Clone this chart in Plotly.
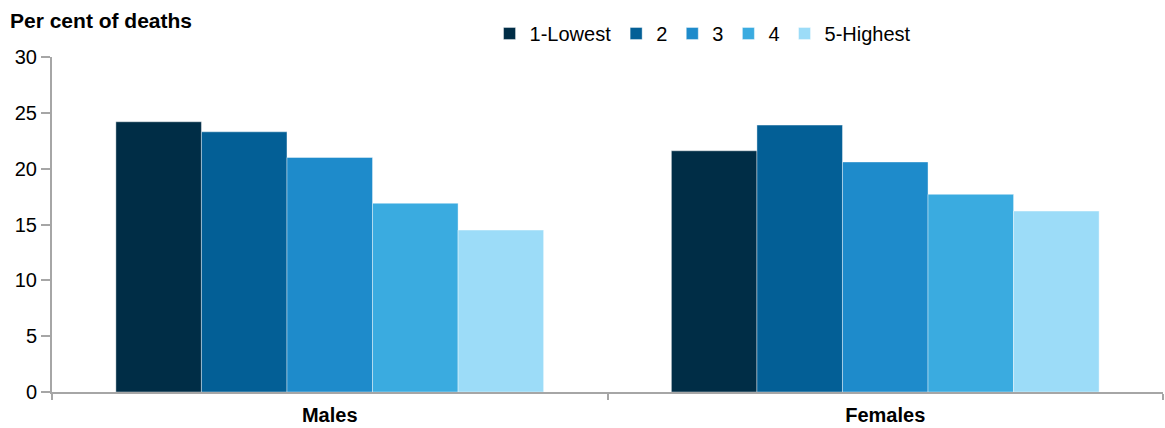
import plotly.graph_objects as go

categories = ["Males", "Females"]
series_names = ["1-Lowest", "2", "3", "4", "5-Highest"]
values = {
    "1-Lowest": [24.2, 21.6],
    "2": [23.3, 23.9],
    "3": [21.0, 20.6],
    "4": [16.9, 17.7],
    "5-Highest": [14.5, 16.2],
}
colors = ["#002D46", "#035F96", "#1E8BCB", "#3AABE0", "#9CDCF8"]
y_ticks = [0, 5, 10, 15, 20, 25, 30]

FONT = "Arial, Liberation Sans, sans-serif"

fig = go.Figure()
for name, col in zip(series_names, colors):
    fig.add_trace(go.Bar(
        x=categories, y=values[name], name=name,
        marker=dict(color=col, line=dict(color="rgba(255,255,255,0.5)", width=0.8)),
    ))

fig.update_layout(
    width=1165, height=428,
    margin=dict(l=52, r=2, t=57, b=36),
    paper_bgcolor="white", plot_bgcolor="white",
    barmode="group", bargap=0.23, bargroupgap=0,
    font=dict(family=FONT, size=20, color="black"),
    showlegend=True,
    legend=dict(orientation="h", x=0.586, xanchor="center", y=1.012, yanchor="bottom",
                font=dict(size=20), itemwidth=30, traceorder="normal",
                bgcolor="rgba(0,0,0,0)"),
    annotations=[dict(text="<b>Per cent of deaths</b>", xref="paper", yref="paper",
                      x=-0.04, y=1.0, xanchor="left", yanchor="bottom", yshift=23,
                      showarrow=False, font=dict(size=21, family=FONT))],
)
fig.update_yaxes(range=[0, 30], tickvals=y_ticks, showgrid=False, zeroline=False,
                 showline=True, linecolor="#A6A6A6", linewidth=2,
                 ticks="outside", ticklen=9, tickcolor="#A6A6A6", tickwidth=2,
                 tickfont=dict(size=20))
fig.update_xaxes(showgrid=False, showline=True, linecolor="#A6A6A6", linewidth=2,
                 ticks="outside", tickson="boundaries", ticklen=6, tickcolor="#A6A6A6", tickwidth=2,
                 tickfont=dict(size=20), ticklabelstandoff=4)
fig.update_xaxes(tickvals=categories, ticktext=["<b>" + c + "</b>" for c in categories])

fig.write_html("out.html")
